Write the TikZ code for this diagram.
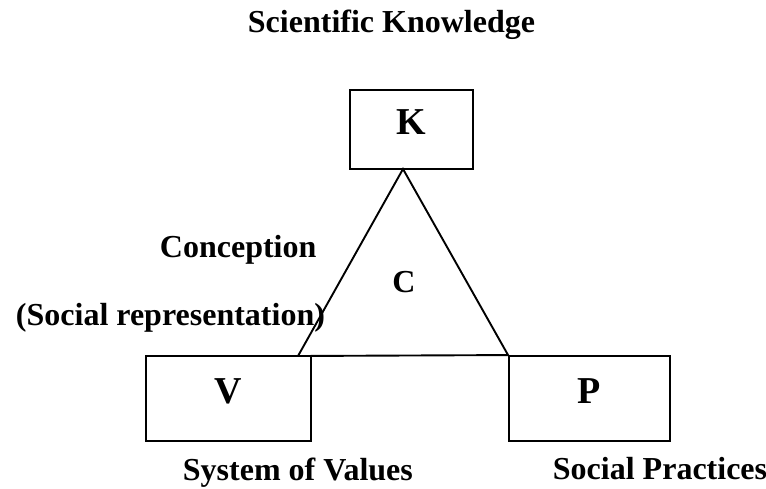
\documentclass[tikz,border=0pt]{standalone}
\usepackage{fontspec}
\setmainfont{Liberation Serif}
\usepackage{tikz}

\begin{document}
\begin{tikzpicture}[x=1pt, y=-1pt, line width=1.9pt,
    cornerbox/.style={draw, inner sep=0pt, font=\fontsize{38}{44}\selectfont\bfseries,
                      text height=26pt, text depth=17pt},
    caption/.style={inner sep=0pt, anchor=base west, font=\fontsize{32}{38}\selectfont\bfseries}]
  \useasboundingbox (0,0) rectangle (766,488);

  \node[caption] (title) at (247,32) {Scientific Knowledge};
  \node[cornerbox, minimum width=123pt, minimum height=79pt] (K) at (411.5,129.5) {K};
  \node[cornerbox, minimum width=165pt, minimum height=85pt] (V) at (228.5,398.5) {V};
  \node[cornerbox, minimum width=161pt, minimum height=85pt] (P) at (589.5,398.5) {P};

  \coordinate (apex) at (403,169);
  \coordinate (baseleft) at (298,356);
  \draw (apex) -- (baseleft) -- (P.north west) -- cycle;
  \node[caption, anchor=base] (C) at (404,292) {C};

  \node[caption] (conception) at (159,257) {Conception};
  \node[caption] (socrep) at (15,325) {(Social representation)};
  \node[caption] (values) at (182,480) {System of Values};
  \node[caption] (practices) at (552,479) {Social Practices};
\end{tikzpicture}
\end{document}
